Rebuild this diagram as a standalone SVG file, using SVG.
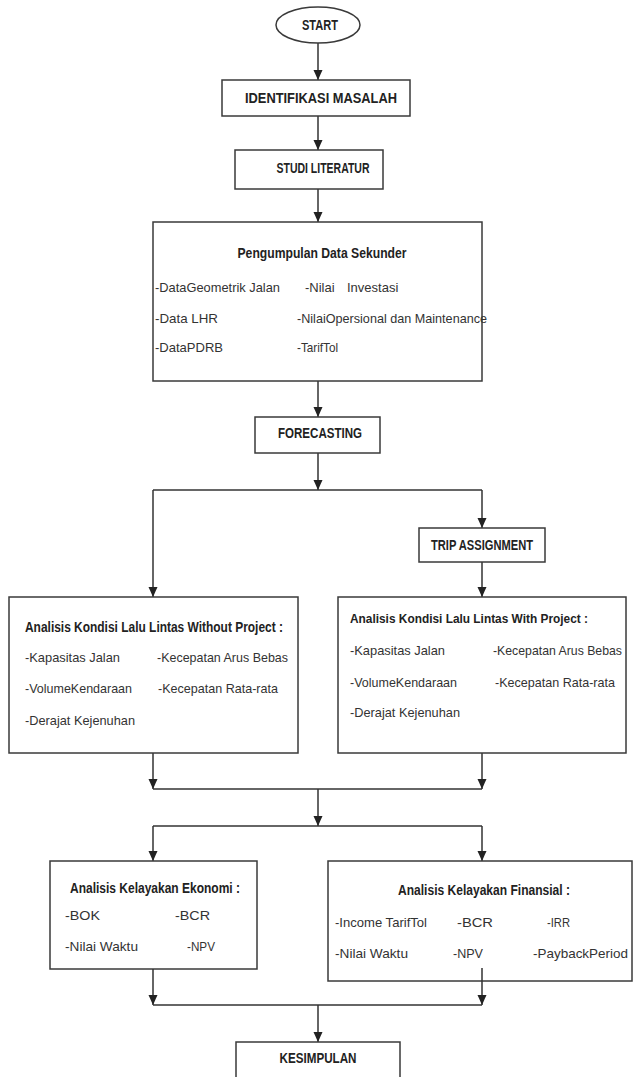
<svg xmlns="http://www.w3.org/2000/svg" width="633" height="1077" viewBox="0 0 633 1077">
<defs>
<marker id="arr" markerUnits="userSpaceOnUse" markerWidth="10" markerHeight="10" refX="10" refY="5" orient="auto">
<path d="M0,0.5 L10,5 L0,9.5 z" fill="#222"/>
</marker>
<style>
.box{fill:#fff;stroke:#3a3a3a;stroke-width:1.5}
.ln{fill:none;stroke:#333;stroke-width:1.5}
.ar{fill:none;stroke:#333;stroke-width:1.5;marker-end:url(#arr)}
.t{font-family:"Liberation Sans",Arial,sans-serif;font-weight:bold;font-size:14.5px;fill:#222}
.i{font-family:"Liberation Sans",Arial,sans-serif;font-size:13px;fill:#333}
</style>
</defs>
<rect width="633" height="1077" fill="#fff"/>

<g id="connectors">
<path class="ar" d="M318,43 V80"/>
<path class="ar" d="M318,116 V150"/>
<path class="ar" d="M318,189 V222"/>
<path class="ar" d="M318,381 V417"/>
<path class="ar" d="M318,453 V490"/>
<path class="ln" d="M153,490 H482"/>
<path class="ar" d="M153,490 V597"/>
<path class="ar" d="M482,490 V528"/>
<path class="ar" d="M482,562 V597"/>
<path class="ar" d="M153,753 V789"/>
<path class="ar" d="M482,753 V789"/>
<path class="ln" d="M153,789 H482"/>
<path class="ar" d="M318,789 V826"/>
<path class="ln" d="M153,826 H482"/>
<path class="ar" d="M153,826 V861"/>
<path class="ar" d="M482,826 V861"/>
</g>

<g id="start">
<ellipse cx="318" cy="25" rx="42" ry="18" class="box"/>
<text class="t" x="320" y="30" text-anchor="middle" textLength="36" lengthAdjust="spacingAndGlyphs">START</text>
</g>

<g id="identifikasi">
<rect class="box" x="222" y="80" width="188" height="36"/>
<text class="t" x="321" y="103" text-anchor="middle" textLength="152" lengthAdjust="spacingAndGlyphs">IDENTIFIKASI MASALAH</text>
</g>

<g id="studi">
<rect class="box" x="235" y="150" width="148" height="39"/>
<text class="t" x="323" y="173" text-anchor="middle" textLength="93" lengthAdjust="spacingAndGlyphs">STUDI LITERATUR</text>
</g>

<g id="pengumpulan">
<rect class="box" x="153" y="222" width="329" height="159"/>
<text class="t" x="322" y="258" text-anchor="middle" textLength="169" lengthAdjust="spacingAndGlyphs">Pengumpulan Data Sekunder</text>
<text class="i" x="155" y="292" textLength="125" lengthAdjust="spacingAndGlyphs">-DataGeometrik Jalan</text>
<text class="i" y="292"><tspan x="305">-Nilai</tspan><tspan x="347">Investasi</tspan></text>
<text class="i" x="155" y="323" textLength="63" lengthAdjust="spacingAndGlyphs">-Data LHR</text>
<text class="i" x="297" y="323" textLength="190" lengthAdjust="spacingAndGlyphs">-NilaiOpersional dan Maintenance</text>
<text class="i" x="155" y="352" textLength="68" lengthAdjust="spacingAndGlyphs">-DataPDRB</text>
<text class="i" x="297" y="352" textLength="41" lengthAdjust="spacingAndGlyphs">-TarifTol</text>
</g>

<g id="forecasting">
<rect class="box" x="255" y="417" width="125" height="36"/>
<text class="t" x="320" y="438" text-anchor="middle" textLength="84" lengthAdjust="spacingAndGlyphs">FORECASTING</text>
</g>

<g id="trip">
<rect class="box" x="419" y="528" width="126" height="34"/>
<text class="t" x="482" y="550" text-anchor="middle" textLength="102" lengthAdjust="spacingAndGlyphs">TRIP ASSIGNMENT</text>
</g>

<g id="without">
<rect class="box" x="9" y="597" width="289" height="156"/>
<text class="t" x="25" y="632" textLength="258" lengthAdjust="spacingAndGlyphs">Analisis Kondisi Lalu Lintas Without Project :</text>
<text class="i" x="25" y="662" textLength="95" lengthAdjust="spacingAndGlyphs">-Kapasitas Jalan</text>
<text class="i" x="157" y="662" textLength="131" lengthAdjust="spacingAndGlyphs">-Kecepatan Arus Bebas</text>
<text class="i" x="25" y="693" textLength="107" lengthAdjust="spacingAndGlyphs">-VolumeKendaraan</text>
<text class="i" x="158" y="693" textLength="120" lengthAdjust="spacingAndGlyphs">-Kecepatan Rata-rata</text>
<text class="i" x="25" y="725" textLength="110" lengthAdjust="spacingAndGlyphs">-Derajat Kejenuhan</text>
</g>

<g id="with">
<rect class="box" x="338" y="597" width="288" height="156"/>
<text class="t" x="350" y="622.5" style="font-size:13.5px" textLength="238" lengthAdjust="spacingAndGlyphs">Analisis Kondisi Lalu Lintas With Project :</text>
<text class="i" x="350" y="655" textLength="95" lengthAdjust="spacingAndGlyphs">-Kapasitas Jalan</text>
<text class="i" x="493" y="655" textLength="129" lengthAdjust="spacingAndGlyphs">-Kecepatan Arus Bebas</text>
<text class="i" x="350" y="687" textLength="107" lengthAdjust="spacingAndGlyphs">-VolumeKendaraan</text>
<text class="i" x="495" y="687" textLength="120" lengthAdjust="spacingAndGlyphs">-Kecepatan Rata-rata</text>
<text class="i" x="350" y="717" textLength="110" lengthAdjust="spacingAndGlyphs">-Derajat Kejenuhan</text>
</g>

<g id="ekonomi">
<rect class="box" x="50" y="861" width="207" height="108"/>
<text class="t" x="155" y="893" text-anchor="middle" textLength="170" lengthAdjust="spacingAndGlyphs">Analisis Kelayakan Ekonomi :</text>
<text class="i" x="65" y="920" textLength="35" lengthAdjust="spacingAndGlyphs">-BOK</text>
<text class="i" x="175" y="920" textLength="35" lengthAdjust="spacingAndGlyphs">-BCR</text>
<text class="i" x="65" y="951" textLength="73" lengthAdjust="spacingAndGlyphs">-Nilai Waktu</text>
<text class="i" x="187" y="951" textLength="28" lengthAdjust="spacingAndGlyphs">-NPV</text>
</g>

<g id="finansial">
<rect class="box" x="328" y="861" width="304" height="120"/>
<text class="t" x="484" y="895" text-anchor="middle" textLength="172" lengthAdjust="spacingAndGlyphs">Analisis Kelayakan Finansial :</text>
<text class="i" x="335" y="927" textLength="92" lengthAdjust="spacingAndGlyphs">-Income TarifTol</text>
<text class="i" x="457" y="927" textLength="36" lengthAdjust="spacingAndGlyphs">-BCR</text>
<text class="i" x="547" y="927" textLength="23" lengthAdjust="spacingAndGlyphs">-IRR</text>
<text class="i" x="335" y="958" textLength="73" lengthAdjust="spacingAndGlyphs">-Nilai Waktu</text>
<text class="i" x="453" y="958" textLength="30" lengthAdjust="spacingAndGlyphs">-NPV</text>
<text class="i" x="533" y="958" textLength="95" lengthAdjust="spacingAndGlyphs">-PaybackPeriod</text>
</g>

<g id="connectors-bottom">
<path class="ar" d="M153,969 V1005"/>
<path class="ar" d="M482,968 V1005"/>
<path class="ln" d="M153,1005 H482"/>
<path class="ar" d="M318,1005 V1042"/>
</g>

<g id="kesimpulan">
<rect class="box" x="236" y="1042" width="164" height="40"/>
<text class="t" x="318" y="1063" text-anchor="middle" textLength="77" lengthAdjust="spacingAndGlyphs">KESIMPULAN</text>
</g>
</svg>
